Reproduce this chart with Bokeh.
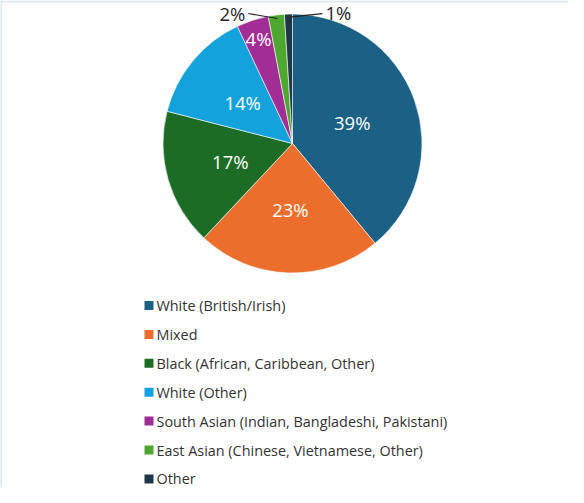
import math
from bokeh.plotting import figure
from bokeh.models import Range1d
from bokeh.core.properties import value
from bokeh.embed import file_html
from bokeh.resources import INLINE

# ---- data ----
categories = ["White (British/Irish)", "Mixed", "Black (African, Caribbean, Other)",
              "White (Other)", "South Asian (Indian, Bangladeshi, Pakistani)",
              "East Asian (Chinese, Vietnamese, Other)", "Other"]
percent = [39, 23, 17, 14, 4, 2, 1]
pct_labels = ["39%", "23%", "17%", "14%", "4%", "2%", "1%"]

# ---- styles / layout ----
colors = ["#1a6185", "#eb6e2c", "#1c6c26", "#14a2dc", "#a22d95", "#4ea72e", "#1f3649"]
W, H = 568, 487
FONT = "Open Sans"
cx, cy_scr, R = 300, 151, 129.5
label_frac = [0.49, 0.51, 0.5, 0.5, 0.85, None, None]   # inside label radius
outside_offset = {5: (-31, 1.5), 6: (37, 1.5)}           # outside labels (px from edge)

def Y(screen_y):  # screen pixel -> data y
    return 503 - screen_y

p = figure(width=W, height=H, output_backend="svg", toolbar_location=None,
           x_range=Range1d(8, 8 + W), y_range=Range1d(503 - 8 - H, 503 - 8),
           min_border=0)
p.axis.visible = False
p.grid.visible = False
p.outline_line_color = None
p.background_fill_color = "white"
p.border_fill_color = "white"

# frame lines (chart border)
p.line([8.5, 8.5], [Y(8), Y(503)], line_color="#dfe8f3", line_width=2)
p.line([8.5, 584], [Y(9), Y(9)], line_color="#dfe8f3", line_width=2)

cy = Y(cy_scr)
total = sum(percent)
starts, ends = [], []
a = math.pi / 2
for v in percent:
    span = v / total * 2 * math.pi
    starts.append(a - span)
    ends.append(a)
    a -= span

p.wedge(x=[cx] * len(percent), y=[cy] * len(percent), radius=R,
        start_angle=starts, end_angle=ends, fill_color=colors,
        line_color="white", line_width=0.6)

for i, lab in enumerate(pct_labels):
    mid = (starts[i] + ends[i]) / 2
    if label_frac[i] is not None:
        r = R * label_frac[i]
        p.text(x=[cx + r * math.cos(mid)], y=[cy + r * math.sin(mid)], text=[lab],
               text_align="center", text_baseline="middle", text_color="white",
               text_font=value(FONT), text_font_size="18.5px")
    else:
        ex, ey = cx + R * math.cos(mid), cy + R * math.sin(mid)
        dx, dy = outside_offset[i]
        lx, ly = ex + dx, ey + dy
        if dx < 0:
            p.line([lx + 3, ex + 1], [ly, ey - 3.5], line_color="#222222", line_width=1.2)
            p.text(x=[lx], y=[ly], text=[lab], text_align="right", text_baseline="middle",
                   text_color="#262626", text_font=value(FONT), text_font_size="18.5px")
        else:
            p.line([lx - 3, ex + 1], [ly - 1, ey - 3], line_color="#222222", line_width=1.2)
            p.text(x=[lx], y=[ly], text=[lab], text_align="left", text_baseline="middle",
                   text_color="#262626", text_font=value(FONT), text_font_size="18.5px")

# legend
leg_x, leg_y0, leg_dy, sq = 152, 313, 28.9, 9
for i, (c, name) in enumerate(zip(colors, categories)):
    ys = Y(leg_y0 + i * leg_dy)
    p.rect(x=[leg_x + sq / 2], y=[ys], width=sq, height=sq, fill_color=c, line_color=None)
    p.text(x=[leg_x + sq + 3], y=[ys], text=[name], text_align="left",
           text_baseline="middle", text_color="#333333",
           text_font=value(FONT), text_font_size="14.4px")

open("out.html", "w").write(file_html(p, INLINE))
